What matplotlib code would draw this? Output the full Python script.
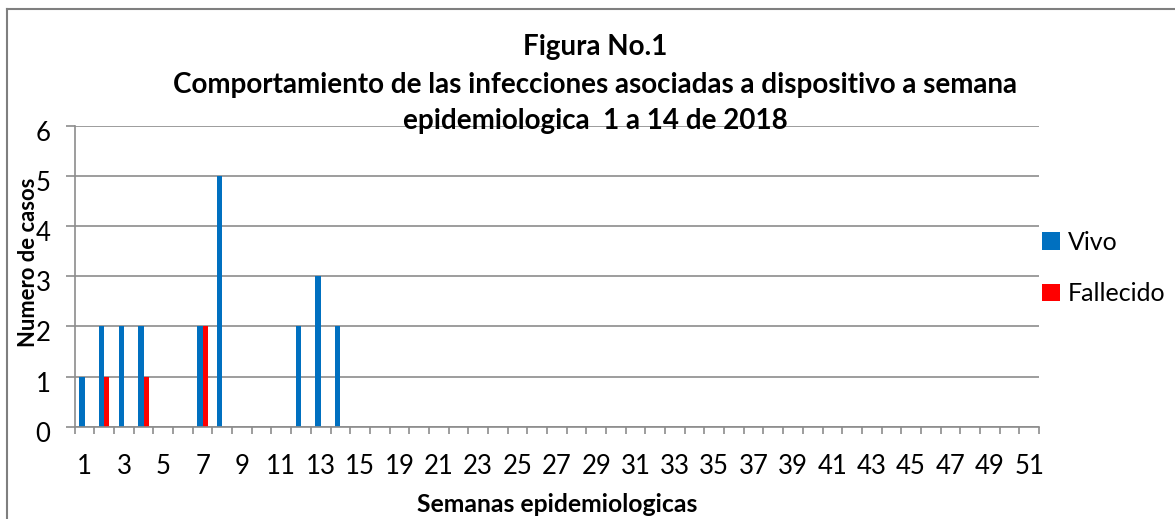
import matplotlib
matplotlib.use("Agg")
import matplotlib.pyplot as plt
from matplotlib.lines import Line2D
import matplotlib.transforms as mtransforms
import numpy as np

plt.rcParams['font.family'] = ['Lato', 'DejaVu Sans']

# Data
weeks = [str(w) for w in list(range(1, 16)) + [17] + list(range(19, 52))]
vivo = [1, 2, 2, 2, 0, 0, 2, 5, 0, 0, 0, 2, 3, 2] + [0] * (len(weeks) - 14)
fallecido = [0, 1, 0, 1, 0, 0, 2, 0, 0, 0, 0, 0, 0, 0] + [0] * (len(weeks) - 14)
series_names = ['Vivo', 'Fallecido']
colors = ['#0070C0', '#FF0000']
title_lines = ["Figura No.1",
               "Comportamiento de las infecciones asociadas a dispositivo a semana",
               "epidemiologica  1 a 14 de 2018"]

W, H = 1175, 519
fig = plt.figure(figsize=(W / 100, H / 100), dpi=100)
ax = fig.add_axes([74.7 / W, 1 - 426.7 / H, (1039 - 74.7) / W, (426.7 - 125.7) / H])

x = np.arange(len(weeks))
bw = 0.265
ax.bar(x - bw / 2, vivo, width=bw, color=colors[0], label=series_names[0])
ax.bar(x + bw / 2, fallecido, width=bw, color=colors[1], label=series_names[1])

ax.set_xlim(-0.5, len(weeks) - 0.5)
ax.set_ylim(0, 6)
ax.set_yticks(range(0, 7))
ax.yaxis.grid(True, color='#8c8c8c', linewidth=1.2)
ax.set_axisbelow(True)

grey = '#8c8c8c'
for s in ['top', 'right']:
    ax.spines[s].set_visible(False)
for s in ['left', 'bottom']:
    ax.spines[s].set_color(grey)
    ax.spines[s].set_linewidth(1.2)

ax.set_xticks(x[::2])
ax.set_xticklabels(weeks[::2])
ax.set_xticks(np.arange(-0.5, len(weeks), 1), minor=True)
ax.tick_params(axis='x', which='major', length=0, pad=20, labelsize=18.5, colors='black')
ax.tick_params(axis='x', which='minor', length=5, width=1.2, color=grey)
ax.tick_params(axis='y', length=6.5, width=1.2, color=grey, pad=11, labelsize=18.5)

offset = mtransforms.ScaledTranslation(0, -5 / 100, fig.dpi_scale_trans)
for lab in ax.get_yticklabels():
    lab.set_transform(lab.get_transform() + offset)

ax.set_xlabel('Semanas epidemiologicas', fontsize=17.8, fontweight='bold', va='center')
ax.xaxis.set_label_coords(0.5, -(504 - 426.7) / 301)
ax.set_ylabel('Numero de casos', fontsize=15.8, fontweight='bold', va='center')
ax.yaxis.set_label_coords((28 - 74.7) / 964.3, (426.7 - 262) / 301)

for line, yy in zip(title_lines, [47, 85, 121]):
    fig.text(595 / W, 1 - yy / H, line, ha='center', va='center', fontsize=20,
             fontweight='bold')

fig.legend(loc='center left', bbox_to_anchor=(1032 / W, 1 - 268 / H), frameon=False,
           fontsize=18, handlelength=0.7, handleheight=0.7, handletextpad=0.35,
           labelspacing=1.15, borderaxespad=0)

# figure border (top and left visible)
fig.add_artist(Line2D([7 / W, 7 / W], [0, 1 - 9 / H], transform=fig.transFigure,
                      color='#7f7f7f', linewidth=1.5))
fig.add_artist(Line2D([7 / W, 1], [1 - 9 / H, 1 - 9 / H], transform=fig.transFigure,
                      color='#7f7f7f', linewidth=1.5))

fig.savefig('out.png', dpi=100)
